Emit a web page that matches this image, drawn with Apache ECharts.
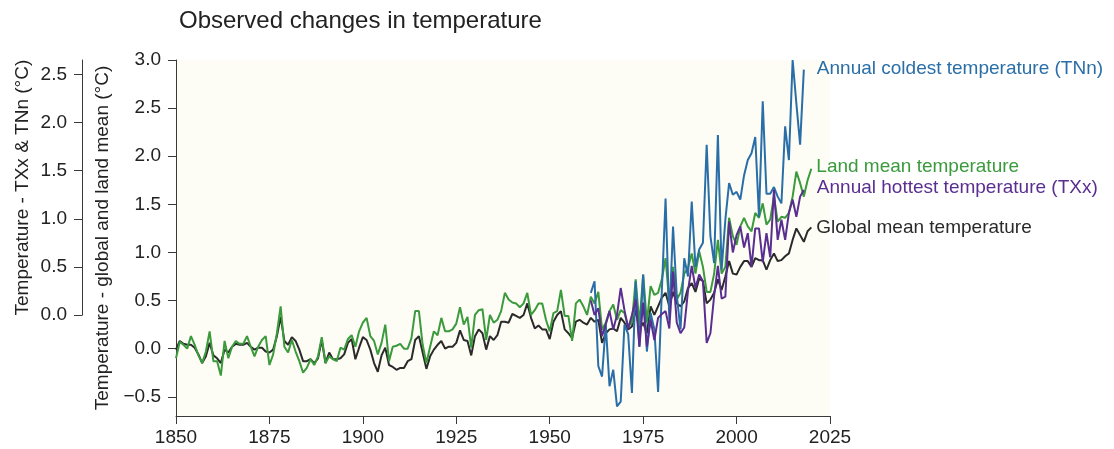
<!DOCTYPE html>
<html>
<head>
<meta charset="utf-8">
<title>Observed changes in temperature</title>
<script src="https://cdn.jsdelivr.net/npm/echarts@6/dist/echarts.min.js"></script>
<style>
  html, body { margin: 0; padding: 0; background: #ffffff; }
  #chart { width: 1114px; height: 449px; }
</style>
</head>
<body>
<div id="chart"></div>
<script>
// Annual anomalies (°C), one value per year
const meanStartYear = 1850;
const globalMean = [
  -0.01, 0.08, 0.05, 0.04, 0.04, 0.01, -0.06, -0.15, -0.08, 0.06,
  -0.07, -0.10, -0.15, -0.01, -0.04, 0.02, 0.05, 0.04, 0.04, 0.06,
  0.02, -0.01, 0.01, 0.01, -0.03, -0.04, -0.01, 0.13, 0.33, 0.08,
  0.04, 0.12, 0.08, -0.01, -0.13, -0.13, -0.11, -0.15, -0.10, 0.09,
  -0.15, -0.04, -0.11, -0.11, -0.10, -0.06, 0.06, 0.10, -0.11, 0.01,
  0.12, 0.09, -0.01, -0.15, -0.24, -0.07, 0.01, -0.17, -0.19, -0.22,
  -0.20, -0.20, -0.13, -0.11, 0.09, 0.13, -0.04, -0.21, -0.08, -0.01,
  0.04, 0.08, 0.00, 0.02, 0.02, 0.06, 0.19, 0.09, 0.08, -0.07,
  0.13, 0.20, 0.16, -0.01, 0.13, 0.09, 0.14, 0.28, 0.28, 0.27,
  0.36, 0.34, 0.32, 0.35, 0.47, 0.32, 0.21, 0.24, 0.20, 0.20,
  0.10, 0.28, 0.35, 0.39, 0.20, 0.16, 0.11, 0.28, 0.30, 0.27,
  0.25, 0.32, 0.28, 0.30, 0.06, 0.16, 0.20, 0.21, 0.18, 0.32,
  0.27, 0.20, 0.23, 0.40, 0.20, 0.27, 0.16, 0.44, 0.35, 0.44,
  0.53, 0.58, 0.44, 0.59, 0.47, 0.44, 0.49, 0.63, 0.68, 0.59,
  0.73, 0.70, 0.47, 0.51, 0.58, 0.72, 0.61, 0.75, 0.91, 0.78,
  0.77, 0.85, 0.91, 0.91, 0.85, 0.94, 0.92, 0.92, 0.82, 0.92,
  0.99, 0.91, 0.92, 0.96, 0.99, 1.13, 1.25, 1.18, 1.11, 1.22,
  1.26
];
const landMean = [
  -0.10, 0.07, 0.04, 0.00, 0.13, 0.04, -0.07, -0.15, -0.03, 0.18,
  -0.13, -0.13, -0.28, 0.08, -0.10, 0.02, 0.08, 0.05, 0.05, 0.13,
  0.02, -0.08, 0.02, 0.09, 0.13, -0.17, -0.06, 0.16, 0.44, 0.02,
  -0.04, 0.09, -0.03, -0.13, -0.25, -0.20, -0.11, -0.17, -0.08, 0.12,
  -0.15, -0.08, -0.11, -0.13, 0.01, -0.01, 0.10, 0.14, 0.02, 0.18,
  0.27, 0.32, 0.13, 0.08, -0.06, 0.06, 0.25, -0.13, 0.02, 0.03,
  0.05, 0.00, 0.00, 0.11, 0.39, 0.39, 0.04, -0.15, 0.02, 0.18,
  0.14, 0.32, 0.18, 0.18, 0.20, 0.26, 0.43, 0.25, 0.33, 0.01,
  0.35, 0.40, 0.41, 0.09, 0.35, 0.27, 0.30, 0.39, 0.58, 0.51,
  0.48, 0.47, 0.43, 0.47, 0.58, 0.35, 0.40, 0.47, 0.47, 0.30,
  0.18, 0.37, 0.39, 0.61, 0.34, 0.34, 0.08, 0.47, 0.51, 0.44,
  0.35, 0.54, 0.47, 0.59, 0.20, 0.27, 0.39, 0.46, 0.30, 0.40,
  0.37, 0.23, 0.27, 0.72, 0.25, 0.77, 0.27, 0.65, 0.56, 0.58,
  0.72, 0.94, 0.47, 0.85, 0.51, 0.58, 0.78, 0.84, 0.99, 0.78,
  1.01, 0.85, 0.59, 0.59, 0.78, 1.13, 0.78, 0.85, 1.36, 1.17,
  1.08, 1.27, 1.36, 1.27, 1.22, 1.41, 1.36, 1.51, 1.29, 1.34,
  1.58, 1.32, 1.37, 1.36, 1.41, 1.58, 1.84, 1.72, 1.58, 1.75,
  1.87
];

// Annual extremes (°C, TXx & TNn scale)
const extremeStartYear = 1961;
const tnn = [
  0.23, 0.35, -0.53, -0.64, -0.10, -0.74, -0.57, -0.95, -0.90,
  -0.10, -0.20, -0.81, 0.35, -0.33, 0.42, -0.38, 0.02, -0.15, -0.80,
  0.25, 1.21, -0.05, 0.92, 0.20, -0.15, 0.59, 0.40, 1.18, 0.50,
  0.68, 0.75, 1.77, 0.82, 0.54, 1.87, 0.47, 0.99, 1.37, 1.25,
  1.28, 1.20, 1.45, 1.61, 1.68, 1.85, 1.02, 2.22, 1.26, 1.26,
  1.33, 1.23, 1.16, 1.96, 1.61, 2.65, 2.20, 1.77, 2.55
];
const txx = [
  0.15, 0.00, 0.07, -0.22, -0.10, 0.04, -0.15, 0.00, 0.28,
  0.05, -0.14, 0.00, 0.16, -0.33, 0.13, -0.33, -0.05, -0.26, -0.03,
  0.01, 0.04, -0.14, 0.45, -0.08, -0.19, -0.13, 0.25, 0.51, 0.28,
  0.42, 0.35, -0.29, -0.19, 0.20, 0.51, 0.17, 0.19, 0.97, 0.65,
  0.83, 0.92, 0.70, 0.85, 0.50, 0.90, 0.90, 0.55, 0.85, 0.60,
  1.30, 0.78, 0.99, 0.78, 1.06, 1.20, 1.02, 1.23, 1.30
];

// Axis ticks
const yearTicks = [1850, 1875, 1900, 1925, 1950, 1975, 2000, 2025];
const meanTicks = [-0.5, 0.0, 0.5, 1.0, 1.5, 2.0, 2.5, 3.0];
const extremeTicks = [0.0, 0.5, 1.0, 1.5, 2.0, 2.5];

const seriesNames = {
  tnn: 'Annual coldest temperature (TNn)',
  land: 'Land mean temperature',
  txx: 'Annual hottest temperature (TXx)',
  global: 'Global mean temperature'
};
const colors = {
  tnn: '#2a6ea8',
  land: '#3a9a3c',
  txx: '#5a2e90',
  global: '#2a2a2a'
};

function pairs(startYear, values) {
  return values.map((v, i) => [startYear + i, v]);
}
function fmt(v) {
  return v < 0 ? '\u2212' + Math.abs(v).toFixed(1) : v.toFixed(1);
}

const FONT = "'Liberation Sans', Arial, sans-serif";
const TEXT = '#222222';
const AXIS = '#3a3a3a';

function lineSeries(key, startYear, values, yAxisIndex, offset) {
  return {
    name: seriesNames[key],
    type: 'line',
    xAxisIndex: 0,
    yAxisIndex: yAxisIndex,
    data: pairs(startYear, values),
    showSymbol: false,
    symbol: 'none',
    lineStyle: { color: colors[key], width: 2 },
    itemStyle: { color: colors[key] },
    endLabel: {
      show: true,
      formatter: seriesNames[key],
      color: colors[key],
      fontFamily: FONT,
      fontSize: 19,
      distance: 5,
      offset: offset
    },
    emphasis: { disabled: true },
    z: 2
  };
}

const chart = echarts.init(document.getElementById('chart'), null, { renderer: 'canvas' });

chart.setOption({
  animation: false,
  backgroundColor: '#ffffff',
  textStyle: { fontFamily: FONT },
  title: {
    text: 'Observed changes in temperature',
    left: 174,
    top: 4,
    textStyle: { fontFamily: FONT, fontSize: 24, fontWeight: 'normal', color: TEXT }
  },
  grid: [
    { left: 176, top: 60, width: 654, height: 356, show: true, backgroundColor: '#fdfdf6', borderWidth: 0 },
    { left: 82, top: 60, width: 10, height: 255.2, show: false }
  ],
  xAxis: [
    {
      gridIndex: 0,
      type: 'value',
      min: 1850,
      max: 2025,
      interval: 25,
      axisLine: { show: true, onZero: false, lineStyle: { color: AXIS, width: 1 } },
      axisTick: { show: true, length: 8, lineStyle: { color: AXIS } },
      axisLabel: {
        fontSize: 19, color: TEXT, fontFamily: FONT, margin: 12,
        customValues: yearTicks,
        formatter: v => String(v)
      },
      splitLine: { show: false }
    },
    { gridIndex: 1, type: 'value', min: 0, max: 1, show: false }
  ],
  yAxis: [
    {
      gridIndex: 0,
      type: 'value',
      min: -0.7,
      max: 3.0,
      axisLine: { show: true, onZero: false, lineStyle: { color: AXIS, width: 1 } },
      axisTick: { show: true, length: 8, customValues: meanTicks, lineStyle: { color: AXIS } },
      axisLabel: {
        fontSize: 19, color: TEXT, fontFamily: FONT, margin: 15,
        customValues: meanTicks, formatter: fmt
      },
      splitLine: { show: false },
      name: 'Temperature - global and land mean (°C)',
      nameLocation: 'middle',
      nameGap: 64,
      nameTextStyle: { fontSize: 19, color: TEXT, fontFamily: FONT }
    },
    {
      // TXx & TNn values plotted inside the main panel
      gridIndex: 0,
      type: 'value',
      min: -1.05,
      max: 2.65,
      show: false
    },
    {
      gridIndex: 1,
      type: 'value',
      min: 0,
      max: 2.65,
      axisLine: { show: true, onZero: false, lineStyle: { color: AXIS, width: 1 } },
      axisTick: { show: true, length: 8, customValues: extremeTicks, lineStyle: { color: AXIS } },
      axisLabel: {
        fontSize: 19, color: TEXT, fontFamily: FONT, margin: 15,
        customValues: extremeTicks, formatter: fmt
      },
      splitLine: { show: false },
      name: 'Temperature - TXx & TNn (°C)',
      nameLocation: 'middle',
      nameGap: 50,
      nameTextStyle: { fontSize: 19, color: TEXT, fontFamily: FONT }
    }
  ],
  series: [
    lineSeries('global', meanStartYear, globalMean, 0, [0, 0]),
    lineSeries('land', meanStartYear, landMean, 0, [0, -2]),
    lineSeries('tnn', extremeStartYear, tnn, 1, [8, -1]),
    lineSeries('txx', extremeStartYear, txx, 1, [8, -2])
  ]
});
</script>
</body>
</html>
